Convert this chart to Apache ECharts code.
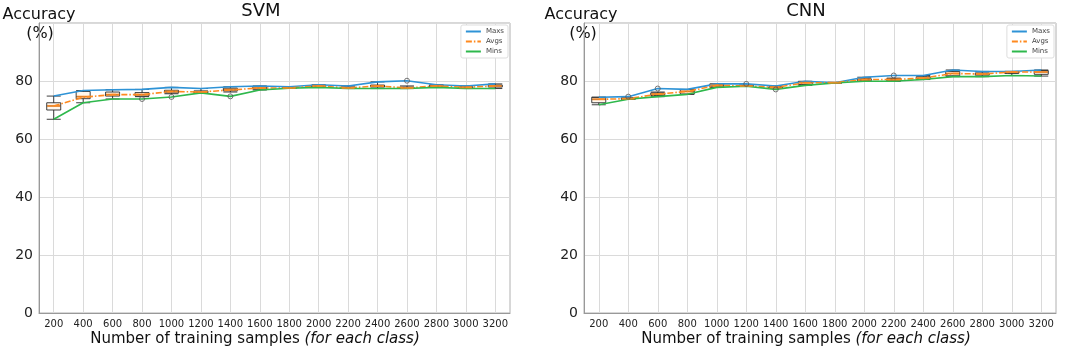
<!DOCTYPE html>
<html>
<head>
<meta charset="utf-8">
<script src="https://cdn.jsdelivr.net/npm/echarts@6/dist/echarts.min.js"></script>
<style>
  html, body { margin: 0; padding: 0; background: #fff; }
  #chart { width: 1072px; height: 352px; }
</style>
</head>
<body>
<div id="chart"></div>
<script>
// training samples per class
var samples = ['200', '400', '600', '800', '1000', '1200', '1400', '1600',
  '1800', '2000', '2200', '2400', '2600', '2800', '3000', '3200'];
var yTicks = [0, 20, 40, 60, 80];

// SVM
var svmMax = [74.8, 76.7, 77.0, 77.1, 77.8, 77.4, 78.0, 78.3, 78.0, 78.7, 78.3, 79.7, 80.1, 78.7, 78.3, 79.0];
var svmAvg = [71.4, 74.4, 75.3, 75.3, 76.4, 76.2, 76.9, 77.6, 77.6, 78.3, 77.6, 78.3, 77.6, 78.3, 77.8, 78.3];
var svmMin = [66.8, 72.5, 73.8, 73.8, 74.5, 75.9, 74.7, 76.9, 77.5, 77.8, 77.4, 77.4, 77.4, 77.8, 77.4, 77.4];
// [low whisker, q1, median, q3, high whisker]
var svmBox = [
  [66.8, 70.0, 71.4, 72.5, 74.8],
  [72.5, 73.9, 74.6, 76.4, 76.7],
  [73.8, 74.8, 75.3, 76.2, 77.0],
  [74.6, 74.8, 75.3, 76.0, 77.1],
  [75.6, 75.9, 76.4, 76.8, 77.8],
  [75.9, 75.9, 76.2, 76.6, 77.4],
  [76.2, 76.6, 77.0, 77.5, 78.0],
  [76.9, 77.2, 77.6, 78.0, 78.3],
  [77.5, 77.5, 77.6, 77.8, 78.0],
  [77.8, 78.0, 78.3, 78.5, 78.7],
  [77.4, 77.5, 77.6, 77.9, 78.3],
  [77.4, 77.9, 78.3, 78.6, 79.7],
  [77.4, 77.4, 77.6, 77.9, 78.3],
  [77.8, 78.0, 78.3, 78.5, 78.7],
  [77.4, 77.6, 77.8, 78.0, 78.3],
  [77.4, 77.9, 78.3, 78.6, 79.0]
];
var svmOutliers = [['800', 73.8], ['1000', 74.5], ['1400', 74.7], ['2600', 80.1]];

// CNN
var cnnMax = [74.4, 74.6, 77.4, 77.1, 79.0, 79.0, 78.3, 79.9, 79.4, 81.3, 81.9, 81.9, 83.8, 83.3, 83.3, 83.8];
var cnnAvg = [73.7, 73.9, 75.5, 76.4, 78.5, 78.3, 77.8, 79.4, 79.4, 80.5, 80.5, 81.0, 82.6, 82.4, 83.1, 83.1];
var cnnMin = [71.8, 73.7, 74.6, 75.4, 77.8, 78.2, 77.1, 78.5, 79.3, 79.9, 79.9, 80.5, 81.5, 81.5, 81.9, 81.7];
var cnnBox = [
  [71.8, 72.5, 73.7, 74.4, 74.4],
  [73.7, 73.7, 73.9, 74.1, 74.2],
  [74.6, 75.0, 75.5, 75.9, 76.2],
  [75.4, 75.5, 76.4, 77.0, 77.1],
  [77.8, 78.0, 78.5, 78.9, 79.0],
  [78.2, 78.2, 78.3, 78.5, 78.6],
  [77.6, 77.7, 77.8, 78.0, 78.3],
  [78.5, 78.8, 79.4, 79.8, 79.9],
  [79.3, 79.3, 79.4, 79.5, 79.5],
  [79.9, 80.1, 80.5, 80.8, 81.3],
  [79.9, 80.1, 80.5, 80.8, 81.0],
  [80.5, 80.7, 81.0, 81.5, 81.9],
  [81.5, 81.8, 82.6, 83.3, 83.8],
  [81.5, 82.0, 82.4, 82.8, 83.3],
  [81.9, 82.6, 83.1, 83.3, 83.3],
  [81.7, 82.3, 83.1, 83.6, 83.8]
];
var cnnOutliers = [['400', 74.6], ['600', 77.4], ['1200', 79.0], ['1400', 77.1], ['2200', 81.9]];

var FONT = 'DejaVu Sans';
var BLUE = '#2e93d6', ORANGE = '#ff8a1f', GREEN = '#2eb84c';

function medians(box) {
  return box.map(function (b, i) { return [samples[i], b[2]]; });
}

function makeAxes(idx) {
  return {
    x: {
      type: 'category', gridIndex: idx, data: samples,
      axisLine: { lineStyle: { color: '#999' } },
      axisTick: { show: false },
      axisLabel: { interval: 0, fontSize: 10, color: '#222', fontFamily: FONT, margin: 6 },
      splitLine: { show: true, alignWithLabel: true, lineStyle: { color: '#dadada' } }
    },
    y: {
      type: 'value', gridIndex: idx, min: 0, max: 100, interval: 20,
      axisLine: { show: true, lineStyle: { color: '#999' } },
      axisTick: { show: false },
      axisLabel: {
        fontSize: 14, color: '#222', fontFamily: FONT, margin: 6,
        formatter: function (v) { return yTicks.indexOf(v) >= 0 ? String(v) : ''; }
      },
      splitLine: { show: true, lineStyle: { color: '#dadada' } }
    }
  };
}

function makeSeries(idx, box, mx, av, mn, outl) {
  var ax = { xAxisIndex: idx, yAxisIndex: idx };
  return [
    Object.assign({
      name: 'box' + idx, type: 'boxplot', data: box, boxWidth: [14, 14], z: 2, silent: true,
      itemStyle: { color: 'rgba(255,246,236,0.9)', borderColor: '#2a2a2a', borderWidth: 0.9 }
    }, ax),
    Object.assign({
      name: 'Maxs', type: 'line', data: mx, symbol: 'none', z: 3,
      lineStyle: { color: BLUE, width: 1.6 }, itemStyle: { color: BLUE }
    }, ax),
    Object.assign({
      name: 'Avgs', type: 'line', data: av, symbol: 'none', z: 3,
      lineStyle: { color: ORANGE, width: 1.6, type: [6, 2, 1.5, 2] }, itemStyle: { color: ORANGE }
    }, ax),
    Object.assign({
      name: 'Mins', type: 'line', data: mn, symbol: 'none', z: 3,
      lineStyle: { color: GREEN, width: 1.6 }, itemStyle: { color: GREEN }
    }, ax),
    Object.assign({
      name: 'median' + idx, type: 'scatter', data: medians(box), symbol: 'rect',
      symbolSize: [13, 2], z: 5, silent: true, itemStyle: { color: ORANGE }
    }, ax),
    Object.assign({
      name: 'outlier' + idx, type: 'scatter', data: outl, symbol: 'circle',
      symbolSize: 5, z: 5, silent: true,
      itemStyle: { color: 'rgba(0,0,0,0)', borderColor: '#555', borderWidth: 1 }
    }, ax)
  ];
}

function legendAt(right) {
  return {
    data: ['Maxs', 'Avgs', 'Mins'], orient: 'vertical', right: right, top: 25,
    itemWidth: 15, itemHeight: 6, itemGap: 3, padding: [3, 4],
    itemStyle: { opacity: 0 },
    backgroundColor: '#fff', borderColor: '#ddd', borderWidth: 1, borderRadius: 2,
    textStyle: { fontSize: 7, color: '#444', fontFamily: FONT }
  };
}

function txt(x, y, s, size, extra) {
  var style = { text: s, fill: '#111', fontSize: size, fontFamily: FONT,
    textAlign: 'center', textVerticalAlign: 'middle', align: 'center', verticalAlign: 'middle' };
  if (extra) Object.assign(style, extra);
  return { type: 'text', x: x, y: y, silent: true, style: style };
}

var xName = 'Number of training samples {i|(for each class)}';
var richName = { rich: { i: { fontStyle: 'italic', fontSize: 15, fontFamily: FONT, fill: '#111' } } };

var a0 = makeAxes(0), a1 = makeAxes(1);
var chart = echarts.init(document.getElementById('chart'));
chart.setOption({
  animation: false,
  grid: [
    { left: 39, right: 562, top: 23, bottom: 39, show: true, borderColor: '#b0b0b0', borderWidth: 1 },
    { left: 584, right: 16, top: 23, bottom: 39, show: true, borderColor: '#b0b0b0', borderWidth: 1 }
  ],
  xAxis: [a0.x, a1.x],
  yAxis: [a0.y, a1.y],
  legend: [legendAt(564), legendAt(18)],
  series: makeSeries(0, svmBox, svmMax, svmAvg, svmMin, svmOutliers)
    .concat(makeSeries(1, cnnBox, cnnMax, cnnAvg, cnnMin, cnnOutliers)),
  graphic: [
    txt(261, 11, 'SVM', 18),
    txt(39, 15, 'Accuracy', 16),
    txt(40, 34, '(%)', 16),
    txt(255, 339, xName, 15, richName),
    txt(806, 11, 'CNN', 18),
    txt(581, 15, 'Accuracy', 16),
    txt(583, 34, '(%)', 16),
    txt(806, 339, xName, 15, richName)
  ]
});
</script>
</body>
</html>
